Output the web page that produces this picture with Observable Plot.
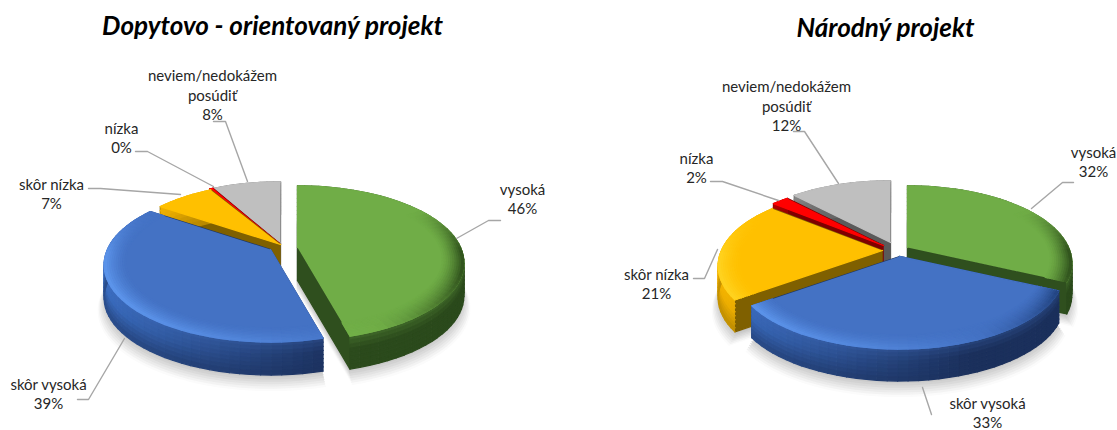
<!DOCTYPE html>
<html lang="sk">
<head>
<meta charset="utf-8">
<style>html,body{margin:0;padding:0;background:#fff}svg{display:block}</style>
<script src="https://cdn.jsdelivr.net/npm/d3@7"></script>
<script src="https://cdn.jsdelivr.net/npm/@observablehq/plot@0.6"></script>
</head>
<body>
<div id="chart"></div>
<script>
// ---- data ----
const titles = ["Dopytovo - orientovaný projekt", "Národný projekt"];
const categories = ["vysoká", "skôr vysoká", "skôr nízka", "nízka", "neviem/nedokážem\nposúdiť"];
const demandValues = [46, 39, 7, 0.4, 8];
const nationalValues = [32, 33, 21, 2, 12];

// ---- styling per category ----
const topColors   = ["#70AD47", "#4472C4", "#FFC000", "#FF0000", "#BFBFBF"];
const cutColors   = ["#2F4F1E", "#1F3864", "#7F6000", "#7F0000", "#5A5A5A"];
const wallLight   = ["#3D6329", "#3A6BBD", "#F0B000", "#A00000", "#808080"];
const wallDark    = ["#2B4A1C", "#1B305C", "#9A7400", "#7F0000", "#5A5A5A"];
const rimLight    = ["#7FC050", "#5C94EA", "#FFD21F", "#FF3030", "#C8C8C8"];
const rimDark     = ["#33561F", "#1F3F7A", "#A67C00", "#A00000", "#8A8A8A"];
const paintOrder  = [4, 3, 2, 0, 1];

// ---- layout per pie ----
const pies = [
  {values: demandValues, rx: 163, ry: 74, k: 0.2, depth: 33,
   cx: [297, 270, 280, 279, 280], cy: [247, 249, 244, 243, 243],
   labelX: [522, 48, 51, 121, 212], labelY: [198, 393, 193, 137, 94], titleX: 272, titleY: 26,
   leaders: [[[456,238],[488,220],[500,220]], [[124,338],[88,399],[77,399]], [[180,194],[100,188],[88,188]],
             [[213,186],[147,151],[135,151]], [[247,181],[225,121],[213,121]]]},
  {values: nationalValues, rx: 161, ry: 74, k: 0.2, depth: 32,
   cx: [907, 899, 882, 883, 890], cy: [247, 256, 250, 245, 242],
   labelX: [1093, 987, 656, 696, 786], labelY: [161, 412, 283, 167, 105], titleX: 885, titleY: 28,
   leaders: [[[1031,208],[1062,182],[1073,182]], [[922,387],[931,414]], [[717,249],[704,278],[693,278]],
             [[778,200],[722,181],[710,181]], [[838,183],[804,131],[793,131]]]}
];

const clamp = t => Math.max(0, Math.min(1, t));
const rows = [], leaderRows = [], labelRows = [], titleRows = [];
let nextId = 0;
function poly(points, fill, target = rows) {
  const id = nextId++;
  for (const [x, y] of points) target.push({id, x, y, fill});
}

pies.forEach((pie, p) => {
  const {values, rx, ry, k, depth} = pie;
  const arcs = d3.pie().sort(null)(values);
  const project = (i, a, r, drop = 0) => {
    const u = r * Math.sin(a), v = -r * Math.cos(a), den = 1 - k * v;
    return [pie.cx[i] + rx * u / den, pie.cy[i] + ry * v / den + drop];
  };
  const sweep = i => {
    const {startAngle: a0, endAngle: a1} = arcs[i];
    const n = Math.max(2, Math.ceil((a1 - a0) / (3 * Math.PI / 180)));
    return d3.range(n + 1).map(j => a0 + (a1 - a0) * j / n);
  };

  // soft ground shadow: graded layers from the far, pale edge to the near, darker one
  const shadowLayers = 8;
  for (let j = shadowLayers - 1; j >= 0; j--) {
    const drop = depth + 1 + j * 1.5, spread = 0.985 + j * 0.007;
    const fill = d3.interpolateRgb("#c2c2c2", "#fbfbfb")(j / (shadowLayers - 1));
    for (const i of paintOrder) {
      poly([project(i, 0, 0, drop), ...sweep(i).map(a => project(i, a, spread, drop))], fill);
    }
  }

  for (const i of paintOrder) {
    const {startAngle: a0, endAngle: a1} = arcs[i];
    const steps = sweep(i), n = steps.length - 1;
    // cut walls
    const apex = project(i, 0, 0);
    for (const a of [a0, a1]) {
      const e = project(i, a, 1);
      poly([apex, e, [e[0], e[1] + depth], [apex[0], apex[1] + depth]], cutColors[i]);
    }
    // outer wall with horizontal light falloff and vertical strips
    const wallColor = a => d3.interpolateRgb(wallDark[i], wallLight[i])(clamp((0.35 - Math.sin(a)) / 1.25));
    const levels = 8;
    for (let s = 0; s < n; s++) {
      const mid = (steps[s] + steps[s + 1]) / 2, base = wallColor(mid);
      for (let l = 0; l < levels; l++) {
        const d0 = depth * l / levels, d1 = depth * (l + 1) / levels, t = l / (levels - 1);
        const fill = t < 0.4
          ? d3.interpolateRgb(base, topColors[i])(0.25 * (1 - t / 0.4))
          : d3.interpolateRgb(base, wallDark[i])(0.5 * (t - 0.4) / 0.6);
        poly([project(i, steps[s], 1, d0), project(i, steps[s + 1], 1, d0),
              project(i, steps[s + 1], 1, d1), project(i, steps[s], 1, d1)], fill);
      }
    }
    // flat top
    poly([apex, ...steps.map(a => project(i, a, 1))], topColors[i]);
    // bevelled rim on the front part of the top
    const rings = 10, inner = 0.875;
    for (let r = 0; r < rings; r++) {
      const r0 = inner + (1 - inner) * r / rings, r1 = inner + (1 - inner) * (r + 1) / rings;
      for (let s = 0; s < n; s++) {
        const mid = (steps[s] + steps[s + 1]) / 2;
        const v = -Math.cos(mid);
        const weight = clamp((v + 0.55) / 0.6);
        if (weight === 0) continue;
        const h = Math.cos(mid - 245 * Math.PI / 180);
        const target = h > 0
          ? d3.interpolateRgb(topColors[i], rimLight[i])(h)
          : d3.interpolateRgb(topColors[i], rimDark[i])(clamp(-h * 1.4));
        const fill = d3.interpolateRgb(topColors[i], target)(weight * Math.pow((r + 1) / rings, 1.5));
        poly([project(i, steps[s], r0), project(i, steps[s + 1], r0),
              project(i, steps[s + 1], r1), project(i, steps[s], r1)], fill);
      }
    }
  }

  values.forEach((value, i) => {
    labelRows.push({x: pie.labelX[i], y: pie.labelY[i], text: `${categories[i]}\n${Math.round(value)}%`});
    const id = nextId++;
    for (const [x, y] of pie.leaders[i]) leaderRows.push({id, x, y});
  });
  titleRows.push({x: pie.titleX, y: pie.titleY, text: titles[p]});
});

const font = "Lato, Carlito, 'Noto Sans', sans-serif";
const chart = Plot.plot({
  width: 1117, height: 430,
  margin: 0,
  style: {background: "#fff", fontFamily: font},
  x: {domain: [0, 1117], range: [0, 1117], axis: null},
  y: {domain: [0, 430], range: [0, 430], axis: null},
  color: {type: "identity"},
  marks: [
    Plot.line(rows, {x: "x", y: "y", z: "id", fill: "fill", stroke: "fill", strokeWidth: 1.3, curve: "linear", strokeLinejoin: "round"}),
    Plot.line(leaderRows, {x: "x", y: "y", z: "id", stroke: "#a6a6a6", strokeWidth: 1.4, curve: "linear"}),
    Plot.text(labelRows, {x: "x", y: "y", text: "text", fontSize: 15, lineHeight: 1.3, fill: "#262626", textAnchor: "middle", lineAnchor: "middle", fontFamily: font}),
    Plot.text(titleRows, {x: "x", y: "y", text: "text", fontSize: 26, fontWeight: "bold", fontStyle: "italic", fill: "#000", textAnchor: "middle", lineAnchor: "middle", fontFamily: font})
  ]
});
document.getElementById("chart").append(chart);
</script>
</body>
</html>
